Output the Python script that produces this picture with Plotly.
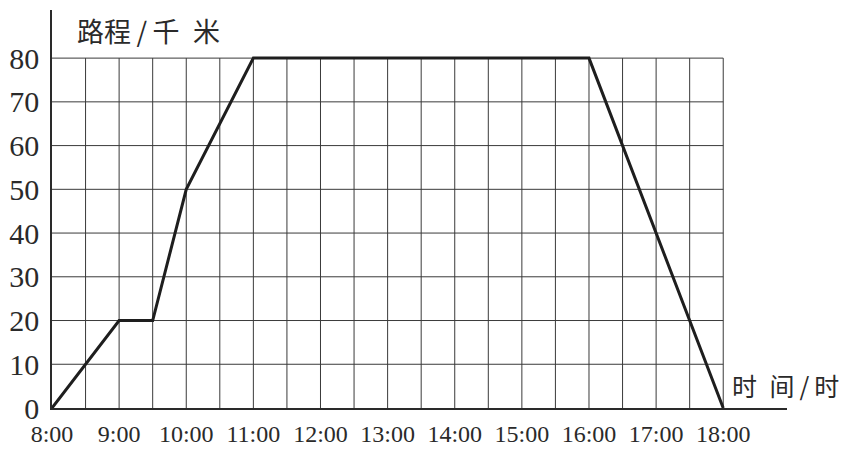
import plotly.graph_objects as go

# Data
hours = [8, 9, 9.5, 10, 11, 16, 18]
distance_km = [0, 20, 20, 50, 80, 80, 0]
x_tick_vals = [8, 9, 10, 11, 12, 13, 14, 15, 16, 17, 18]
x_tick_text = ["8:00", "9:00", "10:00", "11:00", "12:00", "13:00", "14:00",
               "15:00", "16:00", "17:00", "18:00"]
y_tick_vals = [0, 10, 20, 30, 40, 50, 60, 70, 80]
x_grid = [8 + 0.5 * i for i in range(1, 21)]
y_grid = [10, 20, 30, 40, 50, 60, 70, 80]

fig = go.Figure()
fig.add_trace(go.Scatter(x=hours, y=distance_km, mode="lines",
                         line=dict(color="#1e1e1e", width=3), hoverinfo="skip"))

grid_col = "#3a3a3a"
shapes = []
for gx in x_grid:
    shapes.append(dict(type="line", xref="x", yref="y", x0=gx, x1=gx, y0=0, y1=80,
                       line=dict(color=grid_col, width=1), layer="below"))
for gy in y_grid:
    shapes.append(dict(type="line", xref="x", yref="y", x0=8, x1=18, y0=gy, y1=gy,
                       line=dict(color=grid_col, width=1), layer="below"))

serif = "Liberation Serif, Times New Roman, serif"

fig.update_layout(
    width=849, height=452,
    margin=dict(l=52, r=62, t=10, b=44),
    paper_bgcolor="white", plot_bgcolor="white",
    showlegend=False,
    shapes=shapes,
    xaxis=dict(range=[8, 18.95], tickvals=x_tick_vals, ticktext=x_tick_text,
               automargin=False,
               showgrid=False, zeroline=False, showline=True, linecolor="#2a2a2a",
               linewidth=1.5, ticks="outside", ticklen=3, tickcolor="rgba(0,0,0,0)",
               tickfont=dict(family=serif, size=24, color="#2a2a2a")),
    yaxis=dict(range=[0, 91], tickvals=y_tick_vals, automargin=False,
               showgrid=False, zeroline=False, showline=True, linecolor="#2a2a2a",
               linewidth=1.5, ticks="outside", ticklen=5, tickcolor="rgba(0,0,0,0)",
               tickfont=dict(family=serif, size=30, color="#2a2a2a")),
    annotations=[
        dict(text="路程\u2009/\u2009千\u2002米", xref="paper", yref="paper",
             x=(75-52)/735, y=1 - (30-10)/398,
             xanchor="left", yanchor="middle", showarrow=False,
             font=dict(family="Noto Sans CJK SC", size=27, color="#2a2a2a")),
        dict(text="时\u2002间\u2009/\u2009时", xref="paper", yref="paper",
             x=(730-52)/735, y=1 - (385-10)/398,
             xanchor="left", yanchor="middle", showarrow=False,
             font=dict(family="Noto Sans CJK SC", size=25, color="#2a2a2a")),
    ],
)

fig.write_html("out.html", config={"displayModeBar": False},
               post_script="document.body.style.margin='0';")
